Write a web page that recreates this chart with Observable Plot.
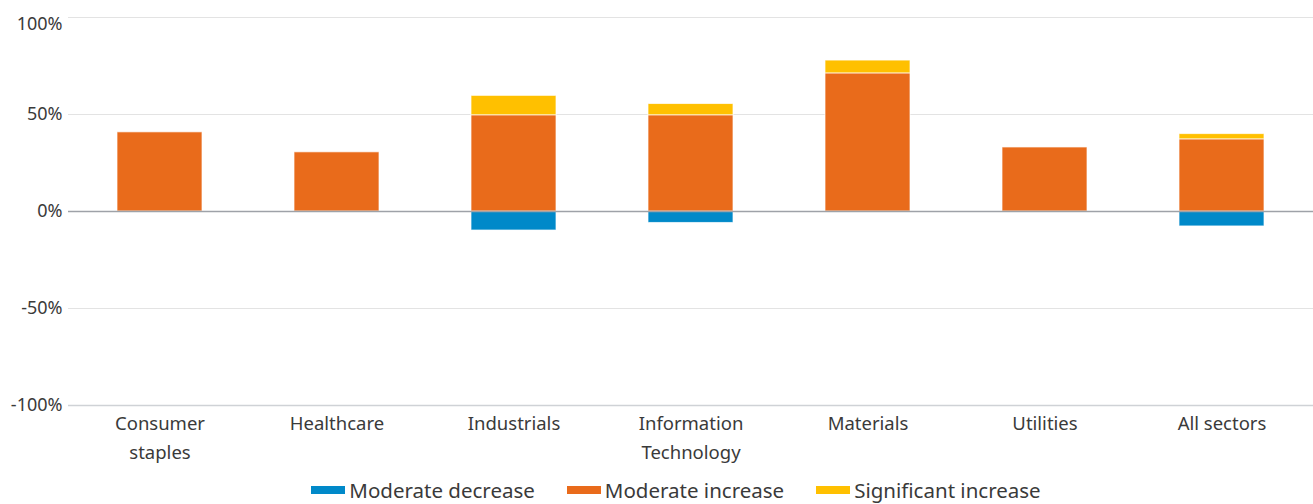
<!DOCTYPE html>
<html>
<head>
<meta charset="utf-8">
<script src="https://cdn.jsdelivr.net/npm/d3@7"></script>
<script src="https://cdn.jsdelivr.net/npm/@observablehq/plot@0.6"></script>
<style>
  html, body { margin: 0; padding: 0; background: #fff; }
  body { width: 1313px; height: 504px; overflow: hidden; font-family: "Noto Sans", sans-serif; }
  #legend { display: flex; justify-content: center; align-items: center; height: 30px; margin-top: 6px; font-size: 20.5px; color: #3a3a3a; padding-left: 39px; }
  .item { display: flex; align-items: center; margin: 0 16px; }
  .sw { width: 34px; height: 8px; margin-right: 4px; }
</style>
</head>
<body>
<div id="chart"></div>
<div id="legend"></div>
<script>
const categories = ["Consumer staples", "Healthcare", "Industrials", "Information Technology", "Materials", "Utilities", "All sectors"];
const tickLabels = ["Consumer\nstaples", "Healthcare", "Industrials", "Information\nTechnology", "Materials", "Utilities", "All sectors"];
const seriesNames = ["Moderate decrease", "Moderate increase", "Significant increase"];
const seriesColors = ["#0089c9", "#e96b1b", "#ffc000"];
const moderateDecrease = [0, 0, -9.8, -5.9, 0, 0, -7.7];
const moderateIncrease = [40.8, 30.5, 49.6, 49.6, 71.2, 33.0, 37.2];
const significantIncrease = [0, 0, 10.0, 5.8, 6.6, 0, 2.7];
const yTicks = [-100, -50, 0, 50, 100];

const seriesValues = [moderateDecrease, moderateIncrease, significantIncrease];
const data = [];
categories.forEach((c, i) => {
  seriesNames.forEach((s, j) => {
    const v = seriesValues[j][i];
    if (v !== 0) data.push({category: c, series: s, value: v});
  });
});
const labelOf = new Map(categories.map((c, i) => [c, tickLabels[i]]));

const chart = Plot.plot({
  width: 1313,
  height: 469,
  marginLeft: 68,
  marginRight: 0,
  marginTop: 17,
  marginBottom: 64,
  style: {fontFamily: "Noto Sans, sans-serif", fontSize: "18px", color: "#3a3a3a", background: "#fff"},
  x: {domain: categories, paddingInner: 0.52, paddingOuter: 0.26, label: null},
  y: {domain: [-100, 100], label: null},
  color: {domain: seriesNames, range: seriesColors},
  marks: [
    Plot.ruleY(yTicks.filter(d => d !== 0 && d !== -100), {stroke: "#e3e3e3", strokeWidth: 1.2}),
    Plot.ruleY([-100], {stroke: "#cfd2d6", strokeWidth: 1.5}),
    Plot.barY(data, Plot.stackY({
      x: "category", y: "value", fill: "series", z: "series",
      order: seriesNames, stroke: "#fff", strokeWidth: 1, strokeOpacity: 0.7
    })),
    Plot.ruleY([0], {stroke: "#9ea2a8", strokeWidth: 1.5}),
    Plot.axisY(yTicks.filter(d => d !== 100), {tickSize: 0, tickPadding: 6, tickFormat: d => d + "%", fontSize: 18, fill: "#3a3a3a"}),
    Plot.axisY([100], {tickSize: 0, tickPadding: 6, tickFormat: d => d + "%", fontSize: 18, fill: "#3a3a3a", dy: 7}),
    Plot.axisX({tickSize: 0, tickPadding: 3, tickFormat: d => labelOf.get(d), fontSize: 18.5, fill: "#3a3a3a", lineHeight: 1.6, textAnchor: "middle"})
  ]
});
document.getElementById("chart").appendChild(chart);

const legend = document.getElementById("legend");
seriesNames.forEach((s, j) => {
  const it = document.createElement("div");
  it.className = "item";
  const sw = document.createElement("div");
  sw.className = "sw";
  sw.style.background = seriesColors[j];
  const t = document.createElement("span");
  t.textContent = s;
  it.appendChild(sw);
  it.appendChild(t);
  legend.appendChild(it);
});
</script>
</body>
</html>
